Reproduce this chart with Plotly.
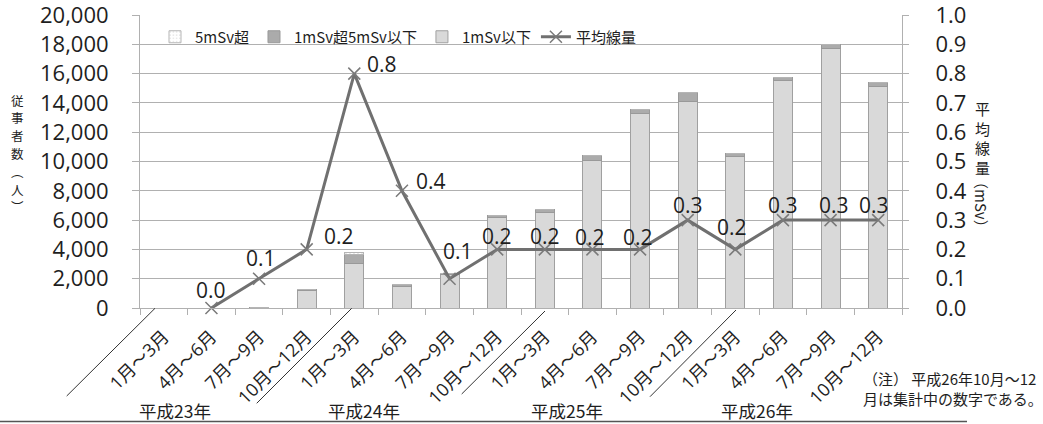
import plotly.graph_objects as go

# ---- data ----
quarters = ["1月～3月", "4月～6月", "7月～9月", "10月～12月"] * 4
years = ["平成23年", "平成24年", "平成25年", "平成26年"]
dose_le1 = [0, 0, 40, 1200, 3050, 1500, 2320, 6200, 6550, 10100, 13250, 14100, 10330, 15520, 17680, 15150]
dose_1to5 = [0, 0, 20, 30, 570, 110, 50, 100, 150, 300, 320, 580, 230, 230, 300, 230]
dose_over5 = [0, 0, 0, 0, 180, 10, 0, 0, 0, 0, 0, 10, 0, 0, 0, 0]
avg_dose = [None, 0.0, 0.1, 0.2, 0.8, 0.4, 0.1, 0.2, 0.2, 0.2, 0.2, 0.3, 0.2, 0.3, 0.3, 0.3]

# pixel offsets of each value label from its point (right, up)
label_dx = [0, 0, 2, 32, 28, 29, 8, 0, 0, -2, -2, 0, -3, 0, 3, -4]
label_dy = [0, 18, 21, 13, 10, 10, 28, 13, 13, 12, 12, 15, 22, 15, 15, 15]

idx = list(range(len(quarters)))

W, H = 1043, 424
L, R, T, B = 140, 902, 15, 308  # plot area in px


def px(x):
    return (x - L) / (R - L)


def py(y):
    return (B - y) / (B - T)


FONT = "Open Sans, Noto Sans CJK JP, sans-serif"
CJK = "Noto Sans CJK JP, sans-serif"
TXT = "#1e1e1e"
GRID = "#b0b0b0"

fig = go.Figure()

fig.add_bar(x=idx, y=dose_le1, name="1mSv以下", width=0.4,
            marker=dict(color="#d9d9d9", line=dict(color="#a0a0a0", width=1)),
            legendrank=3)
fig.add_bar(x=idx, y=dose_1to5, name="1mSv超5mSv以下", width=0.4,
            marker=dict(color="#ababab", line=dict(color="#999999", width=1)),
            legendrank=2)
fig.add_bar(x=idx, y=dose_over5, name="5mSv超", width=0.4,
            marker=dict(color="#ffffff", line=dict(color="#b5b5b5", width=1),
                        pattern=dict(shape=".", fgcolor="#c8c8c8", size=4, solidity=0.2)),
            legendrank=1)

fig.add_scatter(x=idx, y=avg_dose, name="平均線量", yaxis="y2",
                mode="lines+markers",
                line=dict(color="#707070", width=3),
                marker=dict(symbol="x-thin-open", size=12,
                            line=dict(color="#7a7a7a", width=1.5), color="#7a7a7a"),
                cliponaxis=False, legendrank=4)

# value labels for the average-dose line
for i, v in enumerate(avg_dose):
    if v is None:
        continue
    fig.add_annotation(x=i, y=v, xref="x", yref="y2", text=f"{v:.1f}",
                       xanchor="center", yanchor="middle",
                       xshift=label_dx[i], yshift=label_dy[i], showarrow=False,
                       font=dict(size=21, family=FONT, color=TXT))

fig.update_layout(
    width=W, height=H,
    margin=dict(l=L, r=W - R, t=T, b=H - B, pad=0, autoexpand=False),
    paper_bgcolor="white", plot_bgcolor="white",
    barmode="stack", bargap=0.6,
    font=dict(family=FONT, color=TXT),
    showlegend=True,
    legend=dict(orientation="h", x=px(155), y=py(37), xanchor="left", yanchor="middle",
                bgcolor="rgba(0,0,0,0)", traceorder="normal", itemwidth=30,
                font=dict(size=15, family=CJK, color=TXT)),
    xaxis=dict(range=[-0.5, 15.5], tickmode="array", tickvals=idx, ticktext=quarters,
               tickangle=-45, ticks="", showgrid=False, showline=True, automargin=False,
               linecolor=GRID, linewidth=1, zeroline=False, ticklabelstandoff=10,
               ticklabeloverflow="allow",
               tickfont=dict(size=18, family=FONT, color=TXT),
               minor=dict(tickmode="linear", tick0=-0.5, dtick=1, ticks="outside",
                          ticklen=6, tickcolor=GRID, showgrid=False)),
    yaxis=dict(range=[0, 20000], dtick=2000, tickformat=",", showgrid=True, automargin=False,
               gridcolor=GRID, gridwidth=1, showline=True, linecolor=GRID,
               ticks="outside", ticklen=7, tickcolor=GRID, zeroline=False,
               ticklabelstandoff=19, ticklabeloverflow="allow",
               tickfont=dict(size=22, family=FONT, color=TXT)),
    yaxis2=dict(range=[0, 1], dtick=0.1, tickformat=".1f", overlaying="y", side="right",
                showgrid=False, showline=True, linecolor=GRID, ticks="outside", automargin=False,
                ticklen=6, tickcolor=GRID, zeroline=False, ticklabelstandoff=22,
                ticklabeloverflow="allow",
                tickfont=dict(size=22, family=FONT, color=TXT)),
)


def note(text, x, y, size, **kw):
    fig.add_annotation(text=text, x=px(x), y=py(y), xref="paper", yref="paper",
                       showarrow=False, font=dict(size=size, family=CJK, color=TXT), **kw)


# vertical axis titles
left_title = ["従", "事", "者", "数", "︵", "人", "︶"]
for k, ch in enumerate(left_title):
    note(ch, 18, 100 + 17.8 * k, 12.5, xanchor="center", yanchor="middle")
note("平<br>均<br>線<br>量", 982, 138, 15, xanchor="center", yanchor="middle")
note("（mSv）", 982, 204, 15, xanchor="center", yanchor="middle", textangle=90)

# year group labels and diagonal separators
year_x = [175, 364, 567, 757]
for name, xx in zip(years, year_x):
    note(name, xx, 410, 17.5, xanchor="center", yanchor="middle")

separators = [(66.7, 396, 155, 308.3), (256.7, 403.3, 351.7, 308.3),
              (461.7, 394, 545, 311), (650, 396.7, 736, 310)]
for x0, y0, x1, y1 in separators:
    fig.add_shape(type="line", xref="paper", yref="paper",
                  x0=px(x0), y0=py(y0), x1=px(x1), y1=py(y1),
                  line=dict(color="#333333", width=1))

# bottom rule
fig.add_shape(type="line", xref="paper", yref="paper",
              x0=px(0), y0=py(421.5), x1=px(967), y1=py(421.5),
              line=dict(color="#555555", width=1.5))

# footnote
note("（注） 平成26年10月～12<br>月は集計中の数字である。", 861, 389, 15,
     xanchor="left", yanchor="middle", align="left")

fig.write_html("out.html")
